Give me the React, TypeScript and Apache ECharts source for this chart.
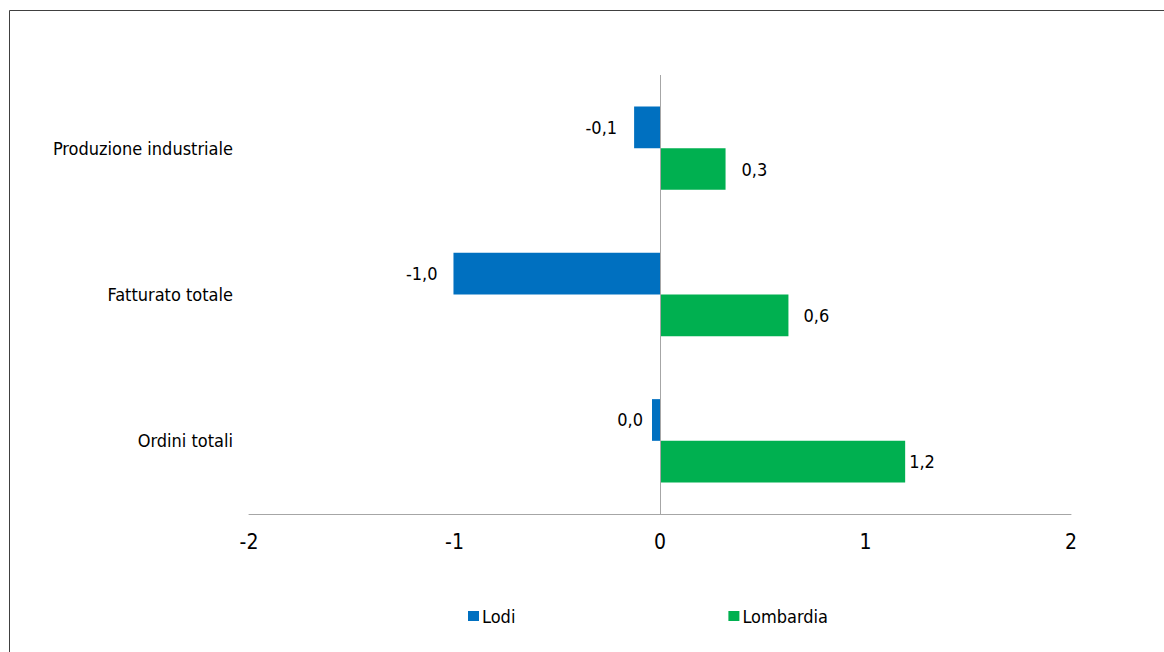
import React, { useEffect, useRef } from "react";
import * as echarts from "echarts";

const categories = ["Produzione industriale", "Fatturato totale", "Ordini totali"];
const seriesNames = ["Lodi", "Lombardia"];
const lodiValues = [-0.126, -1.005, -0.039];
const lombardiaValues = [0.319, 0.625, 1.193];
const xMin = -2;
const xMax = 2;
const xInterval = 1;

const FONT = "'DejaVu Sans Condensed', 'DejaVu Sans', sans-serif";
const BLUE = "#0070C0";
const GREEN = "#00B050";
const AXIS_GRAY = "#A6A6A6";

const lodiLabelDistance = [17, 16, 9];
const lombardiaLabelDistance = [16, 15, 4];

function fmt(v: number): string {
  let r = Math.round(v * 10) / 10;
  if (Math.abs(r) < 0.05) r = 0;
  return r.toFixed(1).replace(".", ",");
}

export default function App() {
  const ref = useRef<HTMLDivElement>(null);
  useEffect(() => {
    if (!ref.current) return;
    const chart = echarts.init(ref.current, null, { renderer: "svg" });
    const labelStyle = {
      show: true,
      color: "#000",
      fontSize: 18,
      fontFamily: FONT,
      formatter: (p: any) => fmt(p.value),
    };
    chart.setOption({
      animation: false,
      backgroundColor: "#fff",
      textStyle: { fontFamily: FONT },
      graphic: [
        {
          type: "rect",
          shape: { x: 9.5, y: 10.5, width: 1300, height: 800 },
          style: { fill: "none", stroke: "#404040", lineWidth: 1 },
          silent: true,
        },
      ],
      grid: { left: 249, right: 93, top: 75, bottom: 138, containLabel: false },
      legend: {
        left: 463,
        top: 602,
        itemWidth: 11,
        itemHeight: 10,
        itemGap: 213,
        icon: "rect",
        textStyle: { color: "#000", fontSize: 18, fontFamily: FONT, padding: [0, 0, 0, -2] },
        data: seriesNames,
      },
      xAxis: {
        type: "value",
        min: xMin,
        max: xMax,
        interval: xInterval,
        axisLine: { show: true, lineStyle: { color: AXIS_GRAY, width: 1 } },
        axisTick: { show: false },
        splitLine: { show: false },
        axisLabel: { color: "#000", fontSize: 21, fontFamily: FONT, margin: 17 },
      },
      yAxis: {
        type: "category",
        inverse: true,
        data: categories,
        axisLine: { show: false },
        axisTick: { show: false },
        splitLine: { show: false },
        axisLabel: { color: "#000", fontSize: 18, fontFamily: FONT, margin: 16 },
      },
      series: [
        {
          name: seriesNames[0],
          type: "bar",
          barGap: "0%",
          barCategoryGap: "43%",
          itemStyle: { color: BLUE },
          data: lodiValues.map((v, i) => ({
            value: v,
            label: { ...labelStyle, position: "left", distance: lodiLabelDistance[i] },
          })),
          markLine: {
            silent: true,
            symbol: ["none", "none"],
            label: { show: false },
            lineStyle: { color: AXIS_GRAY, type: "solid", width: 1 },
            data: [{ xAxis: 0 }],
          },
        },
        {
          name: seriesNames[1],
          type: "bar",
          barGap: "0%",
          barCategoryGap: "43%",
          itemStyle: { color: GREEN },
          data: lombardiaValues.map((v, i) => ({
            value: v,
            label: { ...labelStyle, position: "right", distance: lombardiaLabelDistance[i] },
          })),
        },
      ],
    });
    return () => chart.dispose();
  }, []);
  return (
    <div
      ref={ref}
      style={{ position: "fixed", left: 0, top: 0, width: 1164, height: 652, background: "#fff" }}
    />
  );
}
